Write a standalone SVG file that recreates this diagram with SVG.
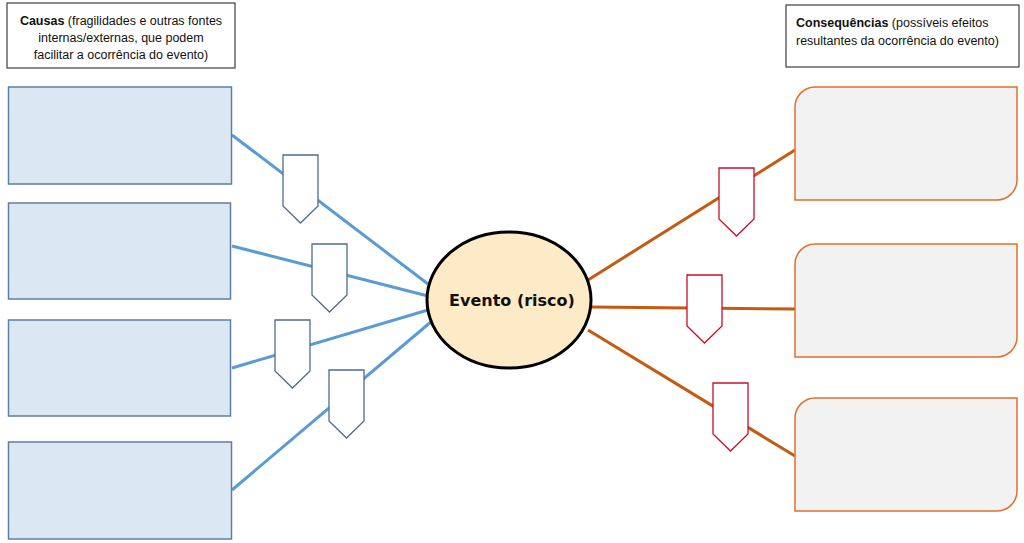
<svg xmlns="http://www.w3.org/2000/svg" width="1024" height="543" viewBox="0 0 1024 543">
<style>
.hdr{fill:#fff;stroke:#3f3f3f;stroke-width:1.2}
.ht{font-family:"Liberation Sans",Arial,sans-serif;font-size:12.5px;fill:#111}
.cause{fill:#dce7f4;stroke:#5f7ea6;stroke-width:1.5}
.cons{fill:#f2f2f2;stroke:#e0702a;stroke-width:1.5}
.bl{stroke:#5b9bd5;stroke-width:3;fill:none}
.or{stroke:#c55a11;stroke-width:3;fill:none}
.bp{fill:#fff;stroke:#4d6c8e;stroke-width:1.3}
.rp{fill:#fff;stroke:#c8102e;stroke-width:1.3}
</style>
<defs>
<path id="pent" d="M0,0 H35 V51 L17.5,68 L0,51 Z"/>
</defs>
<g id="header-causas">
<rect class="hdr" x="7" y="3" width="228" height="65"/>
<text class="ht" text-anchor="middle" x="121" y="24.5"><tspan font-weight="bold">Causas</tspan> (fragilidades e outras fontes</text>
<text class="ht" text-anchor="middle" x="121" y="41.5">internas/externas, que podem</text>
<text class="ht" text-anchor="middle" x="121" y="58.5">facilitar a ocorrência do evento)</text>
</g>
<g id="header-consequencias">
<rect class="hdr" x="786" y="5" width="233" height="62"/>
<text class="ht" x="796" y="26.5"><tspan font-weight="bold">Consequências</tspan> (possíveis efeitos</text>
<text class="ht" x="796" y="45">resultantes da ocorrência do evento)</text>
</g>
<g id="connectors">
<line class="bl" x1="232" y1="135" x2="428" y2="284"/>
<line class="bl" x1="232" y1="246" x2="428" y2="296"/>
<line class="bl" x1="232" y1="368" x2="428" y2="310"/>
<line class="bl" x1="232" y1="490" x2="432" y2="321"/>
<line class="or" x1="588" y1="280" x2="795" y2="150"/>
<line class="or" x1="591" y1="307" x2="795" y2="309"/>
<line class="or" x1="588" y1="330" x2="795" y2="456"/>
</g>
<g id="cause-1"><rect class="cause" x="8.5" y="87" width="223" height="97"/></g>
<g id="cause-2"><rect class="cause" x="8.5" y="203" width="222" height="96"/></g>
<g id="cause-3"><rect class="cause" x="8.5" y="320" width="222" height="96"/></g>
<g id="cause-4"><rect class="cause" x="8.5" y="442" width="223" height="97"/></g>
<g id="cons-1"><path class="cons" d="M795,200 V107 A20,20 0 0 1 815,87 H1017 V180 A20,20 0 0 1 997,200 Z"/></g>
<g id="cons-2"><path class="cons" d="M795,357 V264 A20,20 0 0 1 815,244 H1017 V337 A20,20 0 0 1 997,357 Z"/></g>
<g id="cons-3"><path class="cons" d="M795,511 V418 A20,20 0 0 1 815,398 H1017 V491 A20,20 0 0 1 997,511 Z"/></g>
<g id="control-c1"><use href="#pent" class="bp" x="283" y="155"/></g>
<g id="control-c2"><use href="#pent" class="bp" x="312" y="244"/></g>
<g id="control-c3"><use href="#pent" class="bp" x="275" y="320"/></g>
<g id="control-c4"><use href="#pent" class="bp" x="329" y="370"/></g>
<g id="control-r1"><use href="#pent" class="rp" x="719" y="168"/></g>
<g id="control-r2"><use href="#pent" class="rp" x="687" y="275"/></g>
<g id="control-r3"><use href="#pent" class="rp" x="713" y="383"/></g>
<g id="evento">
<ellipse cx="509" cy="300" rx="82" ry="68" fill="#fdebc8" stroke="#000" stroke-width="3"/>
<text x="512" y="306" text-anchor="middle" font-family="'DejaVu Sans',Verdana,sans-serif" font-weight="bold" font-size="16" fill="#111">Evento (risco)</text>
</g>
</svg>
